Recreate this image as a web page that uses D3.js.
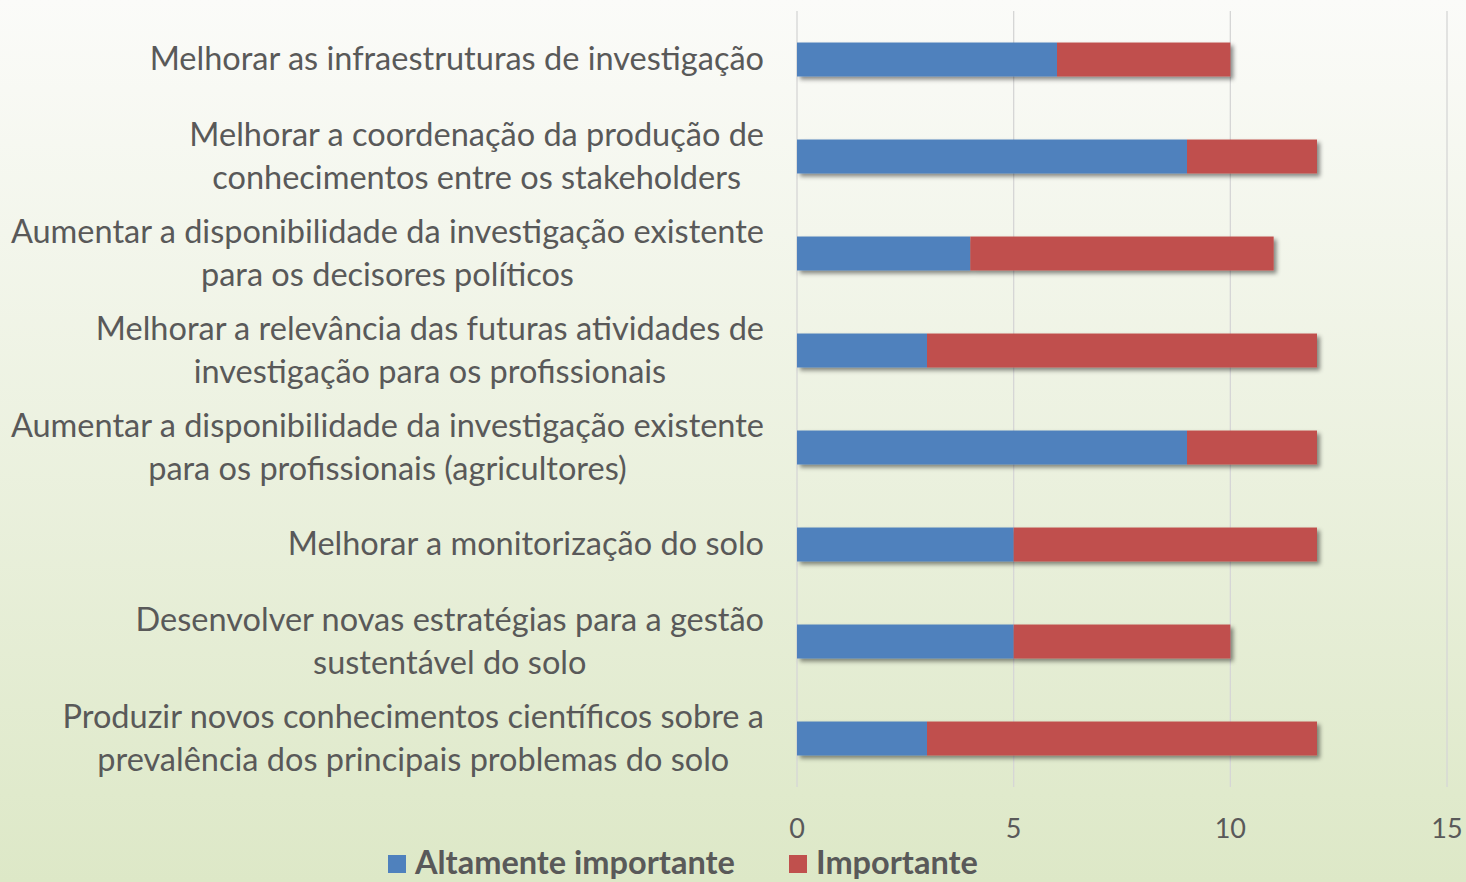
<!DOCTYPE html>
<html>
<head>
<meta charset="utf-8">
<script src="https://cdn.jsdelivr.net/npm/d3@7"></script>
<style>
  html, body { margin: 0; padding: 0; overflow: hidden; }
  svg { display: block; font-family: Lato, "Open Sans", sans-serif; }
</style>
</head>
<body>
<svg width="1466" height="882"></svg>
<script>
// categories, top to bottom (each line of the label is one entry)
var categories = [
  ["Melhorar as infraestruturas de investigação"],
  ["Melhorar a coordenação da produção de", "conhecimentos entre os stakeholders"],
  ["Aumentar a disponibilidade da investigação existente", "para os decisores políticos"],
  ["Melhorar a relevância das futuras atividades de", "investigação para os profissionais"],
  ["Aumentar a disponibilidade da investigação existente", "para os profissionais (agricultores)"],
  ["Melhorar a monitorização do solo"],
  ["Desenvolver novas estratégias para a gestão", "sustentável do solo"],
  ["Produzir novos conhecimentos científicos sobre a", "prevalência dos principais problemas do solo"]
];
var altamente = [6, 9, 4, 3, 9, 5, 5, 3];
var importante = [4, 3, 7, 9, 3, 7, 5, 9];
var seriesNames = ["Altamente importante", "Importante"];
var colors = ["#4f81bd", "#c0504d"];
var ticks = [0, 5, 10, 15];

var svg = d3.select("svg"),
    width = +svg.attr("width"),
    height = +svg.attr("height");

var defs = svg.append("defs");
var grad = defs.append("linearGradient")
    .attr("id", "bg").attr("x1", 0).attr("y1", 0).attr("x2", 0).attr("y2", 1);
grad.append("stop").attr("offset", "0%").attr("stop-color", "#fbfbf9");
grad.append("stop").attr("offset", "100%").attr("stop-color", "#dde8c7");

var shadow = defs.append("filter").attr("id", "shadow")
    .attr("x", "-5%").attr("y", "-30%").attr("width", "115%").attr("height", "180%");
shadow.append("feDropShadow")
    .attr("dx", 3).attr("dy", 3).attr("stdDeviation", 2.2)
    .attr("flood-color", "#000").attr("flood-opacity", 0.45);

svg.append("rect").attr("width", width).attr("height", height).attr("fill", "url(#bg)");

var margin = {left: 797, right: 19, top: 11, bottom: 95};

var x = d3.scaleLinear()
    .domain([0, 15])
    .range([margin.left, width - margin.right]);

var y = d3.scaleBand()
    .domain(d3.range(categories.length))
    .range([margin.top, height - margin.bottom])
    .paddingInner(0.65)
    .paddingOuter(0.325);

// gridlines
svg.append("g")
  .selectAll("line")
  .data(ticks)
  .enter().append("line")
    .attr("x1", function(d) { return x(d); })
    .attr("x2", function(d) { return x(d); })
    .attr("y1", margin.top)
    .attr("y2", height - margin.bottom)
    .attr("stroke", "#d6d6d6")
    .attr("stroke-width", 1.3);

// stacked bars
var rows = categories.map(function(c, i) {
  return {i: i, a: altamente[i], b: importante[i]};
});
var stack = d3.stack().keys(["a", "b"])(rows);

svg.append("g")
  .selectAll("g")
  .data(rows)
  .enter().append("g")
    .attr("filter", "url(#shadow)")
  .selectAll("rect")
  .data(function(d) {
    return stack.map(function(s, k) { return {k: k, seg: s[d.i], i: d.i}; });
  })
  .enter().append("rect")
    .attr("x", function(d) { return x(d.seg[0]); })
    .attr("width", function(d) { return x(d.seg[1]) - x(d.seg[0]); })
    .attr("y", function(d) { return y(d.i); })
    .attr("height", y.bandwidth())
    .attr("fill", function(d) { return colors[d.k]; });

// category labels: lines centred on each other, block right-aligned
var labelRight = 764, lineH = 43;
var labels = svg.append("g")
  .selectAll("text")
  .data(categories)
  .enter().append("text")
    .attr("font-size", 32.5)
    .attr("fill", "#595959")
    .attr("text-anchor", "middle");

labels.each(function(lines, i) {
  var t = d3.select(this);
  var cy = y(i) + y.bandwidth() / 2;
  var y0 = cy - (lines.length - 1) * lineH / 2 + 10.5;
  lines.forEach(function(l, j) {
    t.append("tspan").attr("y", y0 + j * lineH).text(l);
  });
  var maxW = 0;
  t.selectAll("tspan").each(function() {
    maxW = Math.max(maxW, this.getComputedTextLength());
  });
  t.selectAll("tspan").attr("x", labelRight - maxW / 2);
});

// x axis tick labels
svg.append("g")
  .selectAll("text")
  .data(ticks)
  .enter().append("text")
    .attr("x", function(d) { return x(d); })
    .attr("y", 838)
    .attr("text-anchor", "middle")
    .attr("font-size", 27)
    .attr("fill", "#595959")
    .text(function(d) { return d; });

// legend
var legendX = [388, 789];
var legend = svg.append("g")
  .selectAll("g")
  .data(seriesNames)
  .enter().append("g")
    .attr("transform", function(d, i) { return "translate(" + legendX[i] + ",0)"; });
legend.append("rect")
  .attr("x", 0).attr("y", 855)
  .attr("width", 18).attr("height", 18)
  .attr("fill", function(d, i) { return colors[i]; });
legend.append("text")
  .attr("x", 27).attr("y", 874)
  .attr("font-size", 32.5)
  .attr("font-weight", "bold")
  .attr("fill", "#595959")
  .text(function(d) { return d; });
</script>
</body>
</html>
